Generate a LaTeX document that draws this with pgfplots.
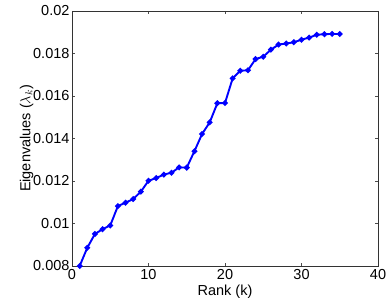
\documentclass[border=0pt]{standalone}
\usepackage{pgfplots}
\pgfplotsset{compat=1.18}
\usepackage{fontspec}
\setmainfont{Liberation Sans}
\newcommand{\chartfont}{\fontsize{14.5}{16}\selectfont}
\begin{document}
\begin{tikzpicture}
\path[use as bounding box] (-72pt,-37pt) rectangle (318pt,266pt);
\begin{axis}[
    at={(0pt,0pt)}, anchor=south west,
    scale only axis,
    width=306pt, height=255pt,
    xmin=0, xmax=40,
    ymin=0.008, ymax=0.02,
    xtick={0,10,20,30,40},
    ytick={0.008,0.01,0.012,0.014,0.016,0.018,0.02},
    yticklabels={0.008,0.01,0.012,0.014,0.016,0.018,0.02},
    scaled y ticks=false,
    xticklabels={0,10,20,30,40},
    tick align=inside,
    major tick length=3pt,
    tick style={black!70, line width=0.5pt},
    axis line style={black!80, line width=0.6pt},
    tick label style={font=\chartfont},
    label style={font=\chartfont},
    xlabel={Rank (k)},
    ylabel={Eigenvalues ($\lambda_k$)},
    xlabel style={yshift=2pt},
    ylabel style={yshift=-7pt},
    xticklabel style={yshift=0pt},
    yticklabel style={xshift=1pt},
]
\addplot[blue, line width=1.9pt, mark=*, mark size=1.8pt] coordinates {
    (1, 0.00800)
    (2, 0.00886)
    (3, 0.00951)
    (4, 0.00973)
    (5, 0.00991)
    (6, 0.01082)
    (7, 0.01098)
    (8, 0.01115)
    (9, 0.01150)
    (10, 0.01201)
    (11, 0.01214)
    (12, 0.01230)
    (13, 0.01239)
    (14, 0.01264)
    (15, 0.01263)
    (16, 0.01340)
    (17, 0.01421)
    (18, 0.01476)
    (19, 0.01566)
    (20, 0.01567)
    (21, 0.01683)
    (22, 0.01719)
    (23, 0.01721)
    (24, 0.01774)
    (25, 0.01785)
    (26, 0.01818)
    (27, 0.01842)
    (28, 0.01847)
    (29, 0.01853)
    (30, 0.01865)
    (31, 0.01875)
    (32, 0.01888)
    (33, 0.01891)
    (34, 0.01892)
    (35, 0.01892)
};
\end{axis}
\end{tikzpicture}
\end{document}
